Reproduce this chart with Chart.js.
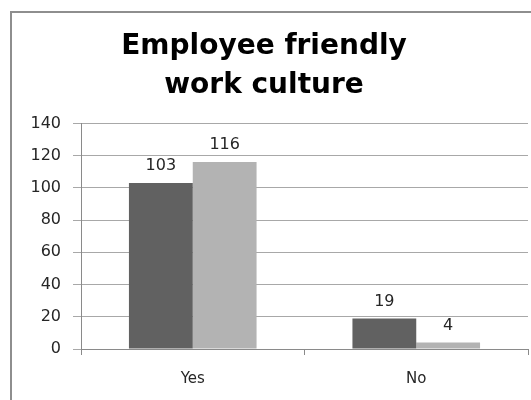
<!DOCTYPE html>
<html>
<head>
<meta charset="utf-8">
<script src="https://cdn.jsdelivr.net/npm/chart.js@4.4.1/dist/chart.umd.min.js"></script>
<style>
  html, body { margin: 0; padding: 0; background: #ffffff; }
  #wrap { position: relative; width: 531px; height: 400px; overflow: hidden; background: #fff; }
  #frame { position: absolute; left: 10px; top: 11px; width: 700px; height: 600px;
           border-left: 2px solid #8e8e8e; border-top: 2px solid #8e8e8e; }
  canvas { position: absolute; left: 0; top: 0; }
</style>
</head>
<body>
<div id="wrap">
  <div id="frame"></div>
  <canvas id="c" width="531" height="400"></canvas>
</div>
<script>
const titleLines = ['Employee friendly', 'work culture'];
const categories = ['Yes', 'No'];
const seriesA = [103, 19];
const seriesB = [116, 4];
const yTicks = [0, 20, 40, 60, 80, 100, 120, 140];

const valueLabels = {
  id: 'valueLabels',
  afterDatasetsDraw(chart) {
    const ctx = chart.ctx;
    ctx.save();
    ctx.font = '16px "DejaVu Sans"';
    ctx.fillStyle = '#262626';
    ctx.textAlign = 'center';
    ctx.textBaseline = 'middle';
    chart.data.datasets.forEach((ds, di) => {
      const meta = chart.getDatasetMeta(di);
      meta.data.forEach((bar, i) => {
        ctx.fillText(String(ds.data[i]), bar.x, bar.y - 17);
      });
    });
    ctx.restore();
  }
};

new Chart(document.getElementById('c'), {
  type: 'bar',
  data: {
    labels: categories,
    datasets: [
      { label: 'A', data: seriesA, backgroundColor: '#616161', borderWidth: 0 },
      { label: 'B', data: seriesB, backgroundColor: '#b3b3b3', borderWidth: 0 }
    ]
  },
  options: {
    responsive: false,
    animation: false,
    devicePixelRatio: 1,
    layout: { padding: { left: 0, right: 3, top: 0, bottom: 0 } },
    datasets: { bar: { categoryPercentage: 0.571, barPercentage: 1.0 } },
    plugins: {
      legend: { display: false },
      tooltip: { enabled: false },
      title: {
        display: true,
        text: titleLines,
        color: '#000000',
        font: { family: '"DejaVu Sans"', size: 28, weight: 'bold', lineHeight: 1.4 },
        padding: { top: 27, bottom: 18 }
      }
    },
    scales: {
      x: {
        offset: true,
        grid: { offset: true, drawOnChartArea: false, drawTicks: true, tickLength: 6, color: '#8a8a8a' },
        border: { color: '#8a8a8a', width: 1 },
        ticks: { color: '#262626', font: { family: '"DejaVu Sans"', size: 15 }, padding: 15 },
        afterFit(scale) { scale.height = 51; }
      },
      y: {
        min: 0,
        max: 140,
        afterBuildTicks(scale) { scale.ticks = yTicks.map(v => ({ value: v })); },
        grid: { color: '#a8a8a8', drawTicks: true, tickLength: 8 },
        border: { color: '#8a8a8a', width: 1 },
        ticks: { color: '#262626', font: { family: '"DejaVu Sans"', size: 16 }, padding: 12 },
        afterFit(scale) { scale.width = 81; }
      }
    }
  },
  plugins: [valueLabels]
});
</script>
</body>
</html>
